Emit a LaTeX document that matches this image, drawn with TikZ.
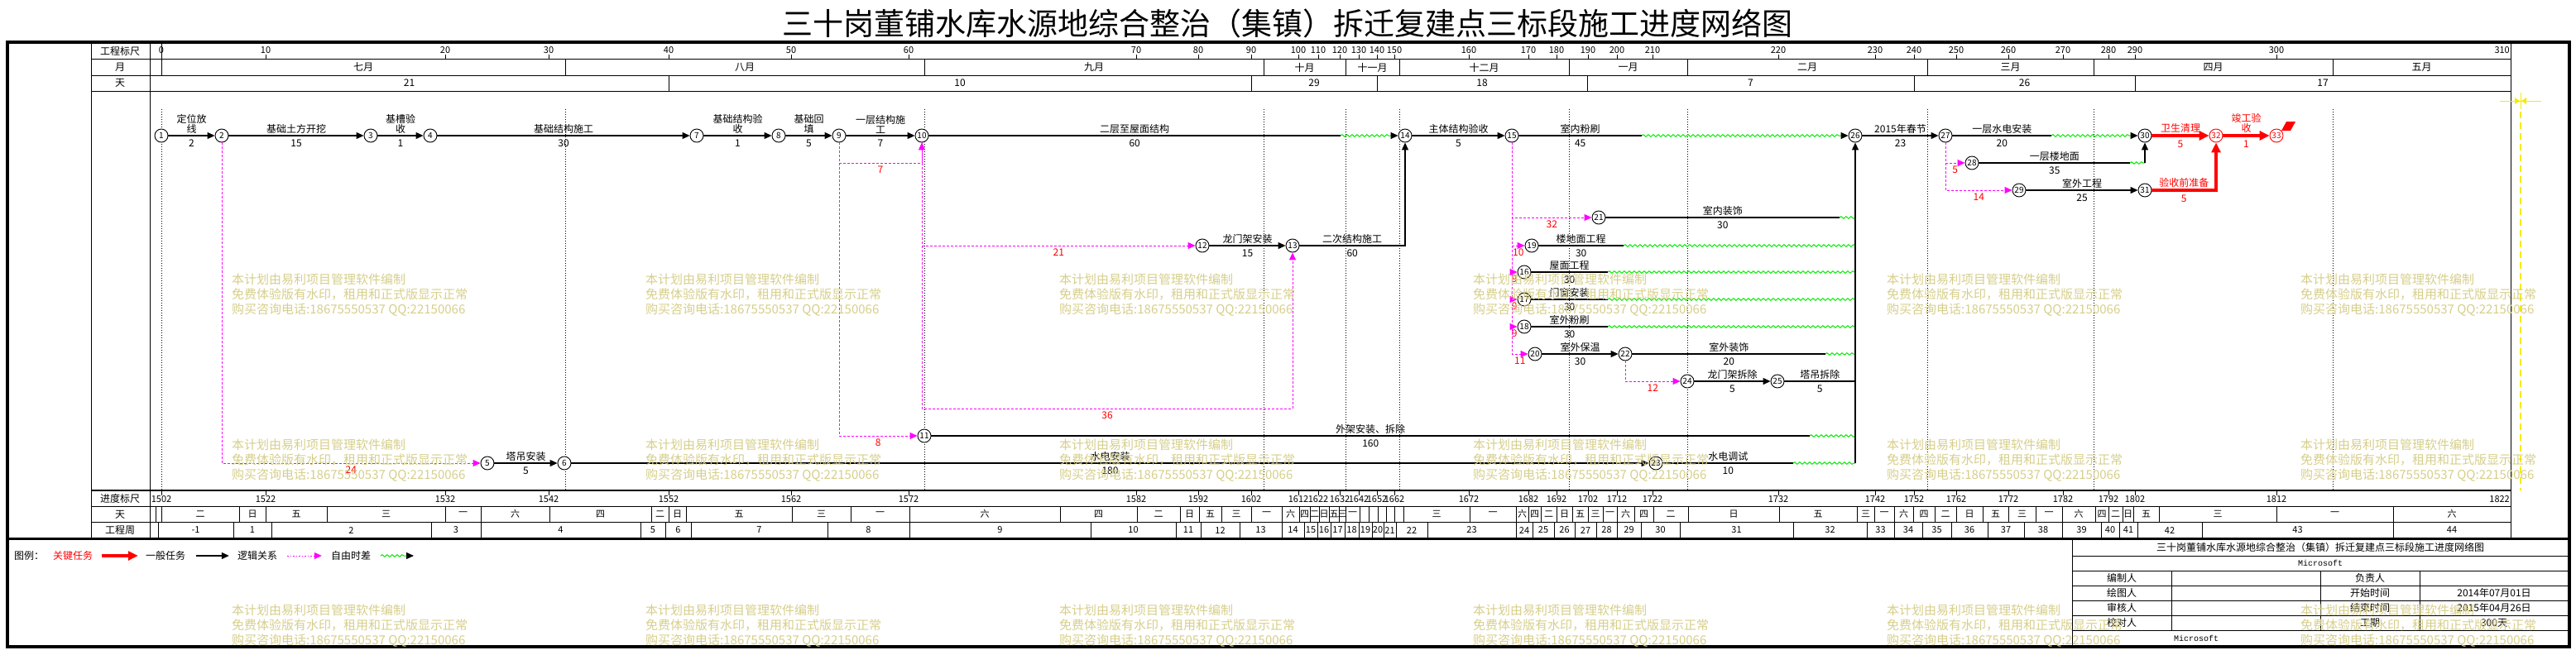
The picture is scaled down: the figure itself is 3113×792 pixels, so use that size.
\documentclass[tikz,border=0pt]{standalone}
\usepackage{fontspec}
\setmainfont{Noto Sans CJK SC}
\newfontfamily\monofont{Liberation Mono}
\usetikzlibrary{arrows.meta,decorations.pathmorphing}

\definecolor{slackgreen}{RGB}{0,235,0}
\definecolor{logicpink}{RGB}{255,0,255}
\definecolor{wmyellow}{RGB}{214,206,138}
\definecolor{markyellow}{RGB}{245,235,0}

\newcommand{\lblfont}{\fontsize{12}{12}\selectfont}
\newcommand{\numfont}{\fontsize{10}{10}\selectfont}
\newcommand{\cellfont}{\fontsize{11}{11}\selectfont}

\tikzset{
  evt/.style={circle, draw, fill=white, line width=0.9pt, minimum size=16pt, inner sep=0pt, font=\numfont},
  critevt/.style={evt, draw=red, text=red},
  task/.style={draw, line width=1.2pt},
  tip/.style={-{Triangle[length=9pt,width=8pt]}},
  crit/.style={draw=red, line width=3.5pt, -{Triangle[length=12pt,width=11pt]}},
  logic/.style={draw=logicpink, line width=1pt, dash pattern=on 2.5pt off 2.5pt, -{Triangle[length=9pt,width=8pt]}},
  slack/.style={draw=slackgreen, line width=1pt, decorate, decoration={snake, amplitude=1.3pt, segment length=6pt}},
  slackto/.style={slack, decoration={post length=10pt}, -{Triangle[length=9pt,width=8pt,color=black]}},
  lbl/.style={midway, anchor=south, inner sep=1.5pt, align=center, font=\lblfont},
  dur/.style={midway, anchor=north, inner sep=4pt, font=\lblfont},
  gap/.style={pos=0.75, anchor=north, inner sep=3pt, text=red, font=\lblfont},
  grid/.style={line width=0.7pt, dash pattern=on 1pt off 2pt},
  rule/.style={line width=1pt},
  cell/.style={font=\cellfont, inner sep=0pt},
  head/.style={font=\lblfont, inner sep=0pt},
  wm/.style={anchor=north west, inner sep=0pt, align=left, text=wmyellow, font=\fontsize{15}{18}\selectfont}
}

\begin{document}
\begin{tikzpicture}[x=1pt, y=-1pt]
\useasboundingbox (0,0) rectangle (3113,792);

% title
\node[font=\fontsize{37}{40}\selectfont] (title) at (1556,28) {三十岗董铺水库水源地综合整治（集镇）拆迁复建点三标段施工进度网络图};

% frame and rows
\draw[line width=3.5pt] (9,51) rectangle (3105,782);
\draw[line width=3pt] (9,651) -- (3105,651);
\draw[rule] (110,51) -- (110,651);
\draw[rule] (181,51) -- (181,651);
\draw[rule] (3034,51) -- (3034,651);
\foreach \yy in {72,91,110,612,631} \draw[rule] (110,\yy) -- (3034,\yy);
\draw[line width=1.8pt] (110,593) -- (3034,593);

\node[head] (hscale) at (145,62) {工程标尺};
\node[head] (hmonth) at (145,81.5) {月};
\node[head] (hday) at (145,100.5) {天};
\node[head] (fscale) at (145,603) {进度标尺};
\node[head] (fday) at (145,622) {天};
\node[head] (fweek) at (145,641) {工程周};

% scales
\draw[rule] (195,53) -- (195,91);
\foreach \xx/\tp/\bt in {195/0/1502, 321/10/1522, 538/20/1532, 663/30/1542, 808/40/1552,
    956/50/1562, 1098/60/1572, 1373/70/1582, 1448/80/1592, 1512/90/1602, 1569/100/1612,
    1593/110/1622, 1619/120/1632, 1642/130/1642, 1664/140/1652, 1685/150/1662,
    1775/160/1672, 1847/170/1682, 1881/180/1692, 1919/190/1702, 1954/200/1712,
    1997/210/1722, 2149/220/1732, 2266/230/1742, 2313/240/1752, 2364/250/1762,
    2427/260/1772, 2493/270/1782, 2548/280/1792, 2580/290/1802, 2751/300/1812} {
  \draw[rule] (\xx,66) -- (\xx,72);
  \draw[rule] (\xx,593) -- (\xx,599);
  \node[cell] (top\xx) at (\xx,61) {\tp};
  \node[cell] (bot\xx) at (\xx,604) {\bt};
}
\node[cell, anchor=east] (top3032) at (3033,61) {310};
\node[cell, anchor=east] (bot3032) at (3033,604) {1822};

% months
\foreach \xb/\ct [remember=\xb as \xa (initially 195)] in {683/七月, 1117/八月, 1527/九月,
    1626/十月, 1691/十一月, 1896/十二月, 2039/一月, 2329/二月, 2530/三月, 2819/四月, 3034/五月} {
  \draw[rule] (\xb,72) -- (\xb,91);
  \node[head] (mon\xb) at ({(\xa+\xb)/2},81.5) {\ct};
}
% days
\foreach \xb/\ct [remember=\xb as \xa (initially 181)] in {808/21, 1512/10, 1664/29,
    1918/18, 2313/7, 2580/26, 3034/17} {
  \draw[rule] (\xb,91) -- (\xb,110);
  \node[head] (day\xb) at ({(\xa+\xb)/2},100.5) {\ct};
}

% weekdays
\draw[rule] (188,612) -- (188,631);
\draw[rule] (195,612) -- (195,631);
\foreach \xb/\ct [remember=\xb as \xa (initially 195)] in {289/二, 321/日, 395/五, 538/三,
    581/一, 664/六, 787/四, 808/二, 829/日, 957/五, 1028/三, 1099/一, 1281/六, 1374/四,
    1426/二, 1449/日, 1476/五, 1512/三, 1549/一, 1570/六, 1583/四, 1594/二, 1606/日,
    1618/五, 1626/三, 1643/一, 1654/{}, 1665/{}, 1675/{}, 1685/{}, 1696/{}, 1776/三,
    1832/一, 1847/六, 1862/四, 1881/二, 1900/日, 1919/五, 1937/三, 1954/一, 1975/六,
    1998/四, 2040/二, 2150/日, 2244/五, 2265/三, 2289/一, 2312/六, 2338/四, 2364/二,
    2396/日, 2427/五, 2460/三, 2492/一, 2532/六, 2548/四, 2565/二, 2578/日, 2609/五,
    2751/三, 2892/一, 3034/六} {
  \draw[rule] (\xb,612) -- (\xb,631);
  \node[cell] (wkd\xb) at ({(\xa+\xb)/2},621.5) {\ct};
}
% weeks
\draw[rule] (191,631) -- (191,651);
\foreach \xb/\ct [remember=\xb as \xa (initially 191)] in {282/-1, 328/1, 521/2, 581/3,
    774/4, 804/5, 835/6, 1000/7, 1099/8, 1318/9, 1421/10, 1451/11, 1498/12, 1549/13,
    1576/14, 1592/15, 1608/16, 1625/17, 1642/18, 1658/19, 1672/20, 1687/21, 1725/22,
    1832/23, 1852/24, 1878/25, 1903/26, 1929/27, 1954/28, 1983/29, 2030/30, 2167/31,
    2256/32, 2289/33, 2323/34, 2358/35, 2402/36, 2446/37, 2492/38, 2539/39, 2561/40,
    2583/41, 2661/42, 2892/43, 3034/44} {
  \draw[rule] (\xb,631) -- (\xb,650);
  \node[cell] (wk\xb) at ({(\xa+\xb)/2},641) {\ct};
}

% month guides
\foreach \xx in {195,683,1117,1527,1626,1691,1896,2039,2329,2530,2819}
  \draw[grid] (\xx,132) -- (\xx,593);

% events
\foreach \n/\xx/\yy in {1/195/164, 2/268/164, 3/448/164, 4/520/164, 7/842/164, 8/941/164,
    9/1014/164, 10/1114/164, 14/1698/164, 15/1827/164, 26/2242/164, 27/2351/164,
    30/2592/164, 5/589/560, 6/682/560, 11/1117/527, 12/1453/297, 13/1562/297,
    21/1932/263, 19/1851/297, 16/1842/329, 17/1842/362, 18/1842/395, 20/1855/428,
    22/1964/428, 24/2039/461, 25/2148/461, 23/2001/560, 28/2383/197, 29/2440/230,
    31/2592/230}
  \node[evt] (n\n) at (\xx,\yy) {\n};
\foreach \n/\xx in {32/2678, 33/2751}
  \node[critevt] (n\n) at (\xx,164) {\n};

% tasks
\foreach \p/\q/\nm/\du in {1/2/{定位放\\线}/2, 2/3/基础土方开挖/15, 3/4/{基槽验\\收}/1,
    4/7/基础结构施工/30, 7/8/{基础结构验\\收}/1, 8/9/{基础回\\填}/5, 9/10/{一层结构施\\工}/7,
    14/15/主体结构验收/5, 26/27/2015年春节/23, 5/6/塔吊安装/5, 6/23/水电安装/180,
    12/13/龙门架安装/15, 20/22/室外保温/30, 24/25/龙门架拆除/5, 29/31/室外工程/25}
  \draw[task,tip] (n\p) -- node[lbl]{\nm} node[dur]{\du} (n\q);

% tasks with free float
\foreach \p/\xx/\yy/\nm/\du in {10/1620/164/二层至屋面结构/60, 15/1984/164/室内粉刷/45,
    27/2479/164/一层水电安装/20, 21/2223/263/室内装饰/30, 19/1962/297/楼地面工程/30,
    16/1943/329/屋面工程/30, 17/1943/362/门窗安装/30, 18/1943/395/室外粉刷/30,
    22/2206/428/室外装饰/20, 11/2187/527/外架安装、拆除/160, 23/2167/560/水电调试/10,
    28/2574/197/一层楼地面/35} {
  \coordinate (w\p) at (\xx,\yy);
  \draw[task] (n\p) -- node[lbl]{\nm} node[dur]{\du} (w\p);
}
\draw[slackto] (w10) -- (n14);
\draw[slackto] (w15) -- (n26);
\draw[slackto] (w27) -- (n30);
\foreach \p in {21,19,16,17,18,22,11,23}
  \draw[slack] (w\p) -- (n26 |- w\p);
\draw[slack] (w28) -- (n30 |- w28);
\draw[task,tip] (n30 |- w28) -- (n30);
\draw[task] (n25) -- node[lbl]{塔吊拆除} node[dur]{5} (n26 |- n25);
\draw[task,tip] (n26 |- n23) -- (n26);
\draw[task,tip] (n13) -- node[lbl]{二次结构施工} node[dur]{60} (n14 |- n13) -- (n14);

% critical path
\draw[crit] (n30) -- node[lbl,text=red]{卫生清理} node[dur,text=red]{5} (n32);
\draw[crit] (n32) -- node[lbl,text=red]{竣工验\\收} node[dur,text=red]{1} (n33);
\draw[crit] (n31) -- node[lbl,text=red]{验收前准备} node[dur,text=red]{5} (n32 |- n31) -- (n32);
\fill[red] (2757,158) -- (2763,147) -- (2774,147) -- (2768,158) -- cycle;

% logic links
\coordinate (c910) at (1114,197);
\coordinate (c1013) at (1562,494);
\draw[logic] (n2) |- node[gap]{24} (n5);
\draw[logic] (n9) |- node[gap]{7} (c910) -- (n10);
\draw[logic] (n9) |- node[gap]{8} (n11);
\draw[logic] (n10) |- node[gap]{21} (n12);
\draw[logic] (n10) |- node[gap]{36} (c1013) -- (n13);
\foreach \q/\g in {21/32, 19/10, 16/9, 17/9, 18/9, 20/11}
  \draw[logic] (n15) |- node[gap]{\g} (n\q);
\draw[logic] (n22) |- node[gap]{12} (n24);
\draw[logic] (n27) |- node[gap]{5} (n28);
\draw[logic] (n27) |- node[gap]{14} (n29);

% print marker
\draw[markyellow, line width=1pt] (3021,122) -- (3071,122);
\draw[markyellow, line width=1pt] (3046,112) -- (3046,132);
\fill[markyellow] (3039,118) -- (3045,122) -- (3039,126) -- cycle;
\fill[markyellow] (3053,118) -- (3047,122) -- (3053,126) -- cycle;
\draw[markyellow, line width=1.2pt, dash pattern=on 8pt off 5pt] (3046,135) -- (3046,593);

% legend
\node[head, anchor=west] (lg0) at (17,672) {图例：};
\node[head, text=red] (lg1) at (88,672) {关键任务};
\node[head] (lg2) at (200,672) {一般任务};
\node[head] (lg3) at (311,672) {逻辑关系};
\node[head] (lg4) at (424,672) {自由时差};
\coordinate (lgs) at (460,672);
\coordinate (lge) at (500,672);
\draw[crit, shorten <=11pt, shorten >=9pt] (lg1) -- (lg2);
\draw[task, tip, shorten <=13pt, shorten >=10pt] (lg2) -- (lg3);
\draw[logic, dash pattern=on 1.5pt off 2pt, shorten <=12pt, shorten >=11pt] (lg3) -- (lg4);
\draw[slackto] (lgs) -- (lge);

% title block
\draw[rule] (2504,651) -- (2504,782);
\foreach \yy in {672,690,708,726,744,762} \draw[rule] (2504,\yy) -- (3105,\yy);
\foreach \xx in {2624,2804,2924} \draw[rule] (\xx,690) -- (\xx,762);
\node[head] (tb0) at (2804,662) {三十岗董铺水库水源地综合整治（集镇）拆迁复建点三标段施工进度网络图};
\node[inner sep=0pt, font=\monofont\fontsize{10}{10}\selectfont] (tb1) at (2804,681) {Microsoft};
\foreach \yy/\ca/\cb/\cc in {699/编制人/负责人/{}, 717/绘图人/开始时间/2014年07月01日,
    735/审核人/结束时间/2015年04月26日, 753/校对人/工期/300天} {
  \node[head] (tba\yy) at (2564,\yy) {\ca};
  \node[head] (tbb\yy) at (2864,\yy) {\cb};
  \node[head] (tbc\yy) at (3014,\yy) {\cc};
}
\node[inner sep=0pt, font=\monofont\fontsize{10}{10}\selectfont] (tb2) at (2654,772) {Microsoft};

% watermark
\foreach \xx in {280,780,1280,1780,2280,2780}
  \foreach \yy in {331,531,731}
    \node[wm] (wm\xx-\yy) at (\xx,\yy) {本计划由易利项目管理软件编制\\免费体验版有水印，租用和正式版显示正常\\购买咨询电话:18675550537 QQ:22150066};
\end{tikzpicture}
\end{document}
